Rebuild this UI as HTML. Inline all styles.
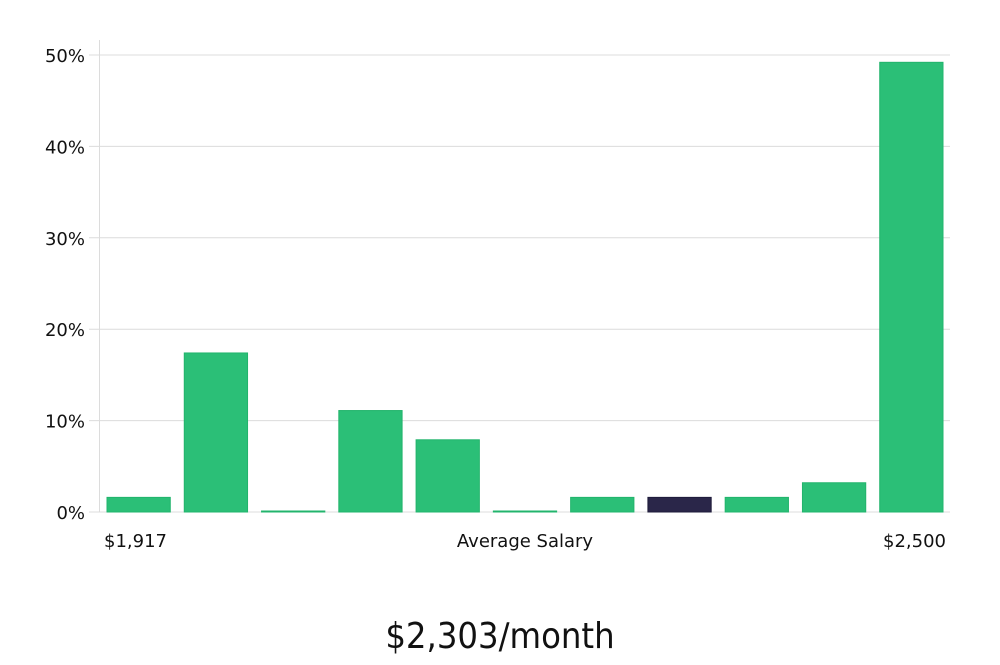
<!DOCTYPE html>
<html><head><meta charset="utf-8"><style>
body{margin:0;background:#fff;width:1000px;height:660px;overflow:hidden}
svg text{font-family:"DejaVu Sans","Liberation Sans",sans-serif;fill:#111}
</style></head><body>
<svg id="c" width="1000" height="660"></svg>
<script>
const categories=["b1","b2","b3","b4","b5","b6","b7","b8","b9","b10","b11"];
const values=[1.6,17.4,0.1,11.1,7.9,0.1,1.6,1.6,1.6,3.2,49.2];
const highlight=[false,false,false,false,false,false,false,true,false,false,false];
const yTicks=[0,10,20,30,40,50];
const yTickLabels=["0%","10%","20%","30%","40%","50%"];
const ns="http://www.w3.org/2000/svg",svg=document.getElementById('c');
const L=100,R=950,Y0=512,Y50=55;
const y=v=>Y0-(v/50)*(Y0-Y50);
const slot=(R-L)/categories.length;
const x=i=>L+i*slot;
function mk(t,a,p){const e=document.createElementNS(ns,t);for(const k in a)e.setAttribute(k,a[k]);(p||svg).appendChild(e);return e;}
yTicks.forEach((t,i)=>{
 const g=mk('line',{x1:89,x2:R,y1:y(t),y2:y(t),stroke:'#dcdcdc','stroke-width':1});
 
 
 const tx=mk('text',{x:85,y:y(t)+7,'text-anchor':'end','font-size':18});
 tx.textContent=yTickLabels[i];
 
 
});
const ax=mk('line',{x1:99.5,x2:99.5,y1:40,y2:Y0,stroke:'#dcdcdc'});


values.forEach((v,i)=>{
 const h=Math.max(Y0-y(v),1);
 const b=mk('rect',{x:x(i)+7,y:Y0-h,width:slot-14,height:h,fill:highlight[i]?'#2a2649':'#2bbf77',stroke:highlight[i]?'#1e1b3a':'#22b46c','stroke-width':1});
 
 
});
function lab(s,xx,yy,anc,sz,name,fam){const t=mk('text',{x:xx,y:yy,'text-anchor':anc,'font-size':sz});if(fam)t.style.fontFamily=fam;t.textContent=s;return t;}
lab("$1,917",104,547,'start',18,'x-min-label');
lab("Average Salary",525,547,'middle',18,'x-axis-title');
lab("$2,500",946,547,'end',18,'x-max-label');
const t=lab("$2,303/month",500,648,'middle',36,'average-salary-value','"DejaVu Sans Condensed","Liberation Sans",sans-serif');
t.setAttribute('font-weight','300');
</script>
</body></html>
